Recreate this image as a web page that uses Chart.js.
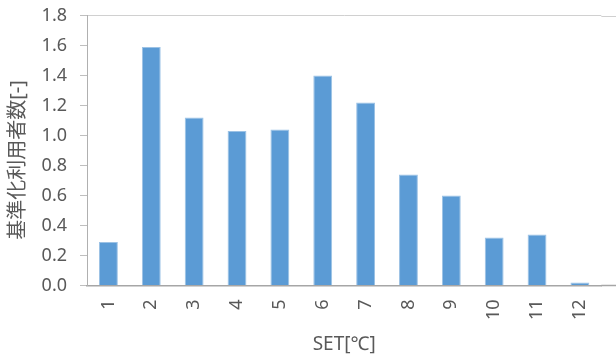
<!DOCTYPE html>
<html>
<head>
<meta charset="utf-8">
<script src="https://cdn.jsdelivr.net/npm/chart.js@4.4.1/dist/chart.umd.min.js"></script>
<style>
  html, body { margin: 0; padding: 0; background: #ffffff; }
  #wrap { width: 616px; height: 358px; }
</style>
</head>
<body>
<div id="wrap"><canvas id="chart" width="616" height="358"></canvas></div>
<script>
// SET bins [°C] and normalized user counts
const setLabels = ['1', '2', '3', '4', '5', '6', '7', '8', '9', '10', '11', '12'];
const normalizedUsers = [0.29, 1.59, 1.12, 1.03, 1.04, 1.40, 1.22, 0.74, 0.60, 0.32, 0.34, 0.02];
const yTitle = '基準化利用者数[-]';
const xTitle = 'SET[℃]';

const FONT = '"Noto Sans", "Noto Sans CJK JP", sans-serif';
const TEXT = '#595959';

// Vertical axis title and full-width frame lines
const framePlugin = {
  id: 'frame',
  afterDraw(chart) {
    const { ctx, chartArea, scales } = chart;
    const yTop = Math.round(scales.y.getPixelForValue(1.8)) + 0.5;
    const yBase = scales.y.getPixelForValue(0);
    ctx.save();
    ctx.strokeStyle = '#d0d0d0';
    ctx.lineWidth = 1;
    ctx.beginPath();
    ctx.moveTo(chartArea.right, yTop);
    ctx.lineTo(chart.width, yTop);
    ctx.stroke();
    ctx.strokeStyle = '#a6a6a6';
    ctx.lineWidth = 1.5;
    ctx.beginPath();
    ctx.moveTo(chartArea.right, yBase);
    ctx.lineTo(chart.width, yBase);
    ctx.stroke();

    ctx.translate(18, 160);
    ctx.rotate(-Math.PI / 2);
    ctx.fillStyle = TEXT;
    ctx.font = '20px ' + FONT;
    ctx.textAlign = 'center';
    ctx.textBaseline = 'middle';
    ctx.fillText(yTitle, 0, 0);
    ctx.restore();
  }
};

new Chart(document.getElementById('chart'), {
  type: 'bar',
  data: {
    labels: setLabels,
    datasets: [{
      data: normalizedUsers,
      backgroundColor: '#5b9bd5',
      borderColor: '#9cc2e5',
      borderWidth: 1,
      barPercentage: 0.44,
      categoryPercentage: 1.0
    }]
  },
  options: {
    responsive: false,
    animation: false,
    devicePixelRatio: 1,
    layout: { padding: { top: 15.5, right: 12, left: 0, bottom: 0 } },
    plugins: {
      legend: { display: false },
      tooltip: { enabled: false }
    },
    scales: {
      x: {
        offset: true,
        grid: { display: false, drawTicks: false },
        border: { display: true, color: '#a6a6a6', width: 1.5 },
        ticks: {
          color: TEXT,
          font: { family: FONT, size: 18 },
          minRotation: 90,
          maxRotation: 90,
          padding: 14
        },
        title: {
          display: true,
          text: xTitle,
          color: TEXT,
          font: { family: FONT, size: 19 },
          padding: { top: 0, bottom: 2 }
        },
        afterFit(scale) { scale.height = 72.5; }
      },
      y: {
        min: 0,
        max: 1.8,
        grid: {
          color: (c) => (c.tick && Math.abs(c.tick.value - 1.8) < 1e-6 ? '#d0d0d0' : 'rgba(0,0,0,0)'),
          tickColor: '#bfbfbf',
          tickLength: 7,
          drawTicks: true
        },
        border: { display: true, color: '#b0b0b0', width: 1 },
        ticks: {
          stepSize: 0.2,
          color: TEXT,
          font: { family: FONT, size: 18 },
          padding: 13,
          callback: (v) => Number(v).toFixed(1)
        },
        afterFit(scale) {
          scale.width = 87;
          scale.paddingTop = 0;
          scale.paddingBottom = 0;
        }
      }
    }
  },
  plugins: [framePlugin]
});
</script>
</body>
</html>
